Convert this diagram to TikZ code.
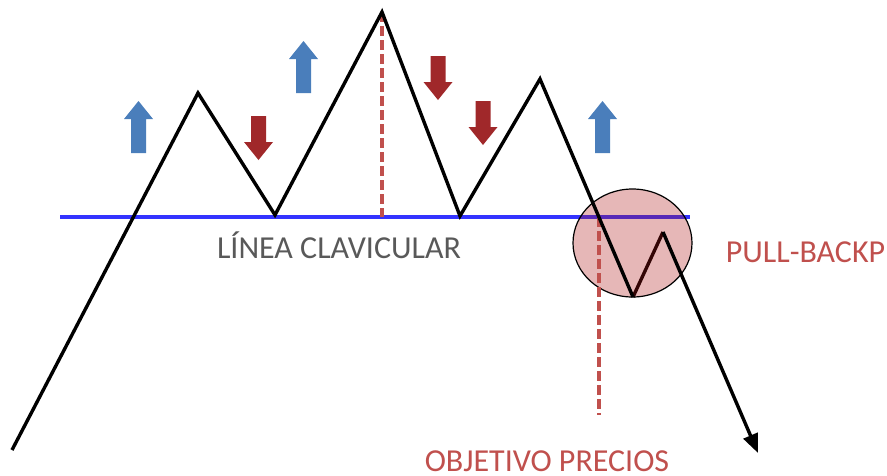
\documentclass[tikz,border=0pt]{standalone}
\usepackage{fontspec}
\setmainfont{Carlito}
\usetikzlibrary{arrows.meta,shapes.geometric}
\definecolor{upblue}{HTML}{4A7EBB}
\definecolor{downred}{HTML}{A0282A}
\definecolor{lblred}{HTML}{C0504D}
\definecolor{lblgray}{HTML}{595959}
\definecolor{neckblue}{HTML}{3333FF}
\definecolor{circred}{HTML}{AB1211}
\tikzset{
  price/.style={line width=3.4pt, line join=miter, black},
  neck/.style={line width=3.6pt, neckblue},
  target/.style={line width=3.2pt, lblred, dash pattern=on 10pt off 4pt},
  uparrow/.style={fill=upblue, draw=none},
  downarrow/.style={fill=downred, draw=none},
  lbl/.style={font=\fontsize{32}{36}\selectfont, inner sep=0pt, anchor=base}
}
\newcommand{\uparr}[3]{% center x, tip y, bottom y
  \fill[uparrow] (#1,#2) -- (#1+14.5,#2+18) -- (#1+7.5,#2+18) -- (#1+7.5,#3) -- (#1-7.5,#3) -- (#1-7.5,#2+18) -- (#1-14.5,#2+18) -- cycle;}
\newcommand{\downarr}[3]{% center x, top y, tip y
  \fill[downarrow] (#1,#3) -- (#1+14.5,#3-18) -- (#1+7.5,#3-18) -- (#1+7.5,#2) -- (#1-7.5,#2) -- (#1-7.5,#3-18) -- (#1-14.5,#3-18) -- cycle;}
\begin{document}
\begin{tikzpicture}[x=1pt,y=-1pt]
\useasboundingbox (0,0) rectangle (887,475);
% key points
\coordinate (start) at (12,450);
\coordinate (ls) at (198,93);
\coordinate (n1) at (275,215);
\coordinate (head) at (382,12);
\coordinate (n2) at (460,216);
\coordinate (rs) at (540,79);
\coordinate (pb1) at (633,297);
\coordinate (pb2) at (663,232);
\coordinate (end) at (758,453);
\coordinate (nl) at (60,217);
\coordinate (nr) at (690,217);
\coordinate (hb) at (382,217);
\coordinate (tt) at (599,217);
\coordinate (tb) at (599,415);
% neckline
\draw[neck] (nl) -- (nr);
% pull-back segment (under circle)
\draw[price] (pb1) -- (pb2);
% circle
\node[draw=black, line width=1.2pt, fill=circred, fill opacity=0.3, draw opacity=1, ellipse, minimum width=119pt, minimum height=108pt, inner sep=0pt] (pbcircle) at (632.5,243) {};
% target lines
\draw[target] (head) -- (hb);
\draw[target] (tt) -- (tb);
% price line
\draw[price] (start) -- (ls) -- (n1) -- (head) -- (n2) -- (rs) -- (pb1);
\draw[price, -{Triangle[length=19pt,width=15pt]}] (pb2) -- (end);
% arrows
\uparr{138.5}{101}{153}
\uparr{303.5}{41}{93}
\uparr{602.5}{101}{153}
\downarr{258.5}{116}{160}
\downarr{438}{56}{100}
\downarr{483}{101}{145}
% labels
\node[lbl, text=lblgray] (clav) at (339,258) {LÍNEA CLAVICULAR};
\node[lbl, text=lblred] (pull) at (805.5,262) {PULL-BACKP};
\node[lbl, text=lblred] (obj) at (547,471.5) {OBJETIVO PRECIOS};
\end{tikzpicture}
\end{document}
